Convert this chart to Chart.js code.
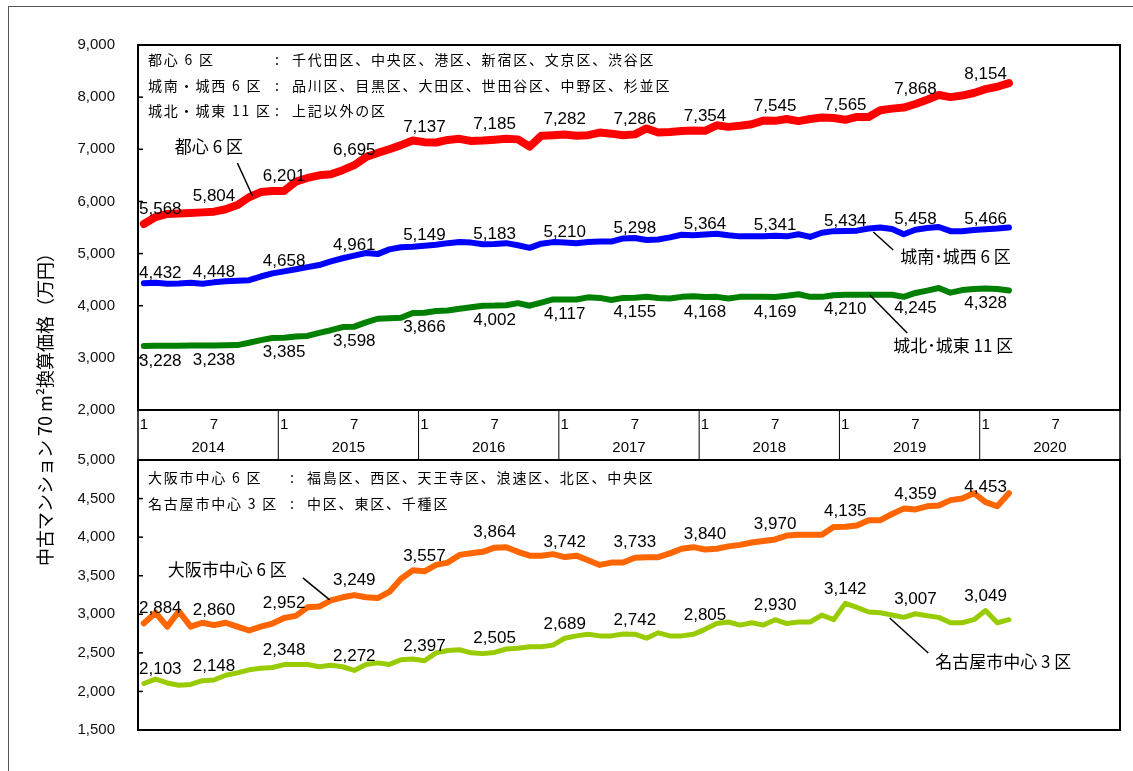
<!DOCTYPE html>
<html lang="ja">
<head>
<meta charset="utf-8">
<script src="https://cdn.jsdelivr.net/npm/chart.js@4.4.1/dist/chart.umd.min.js"></script>
<style>
  html, body { margin: 0; padding: 0; background: #fff; overflow: hidden; }
  #frame { position: absolute; left: 8px; top: 6px; width: 1200px; height: 900px; border: 1px solid #555; }
  canvas { position: absolute; left: 0; top: 0; }
</style>
</head>
<body>
<div id="frame"></div>
<canvas id="topChart" width="1133" height="771"></canvas>
<canvas id="bottomChart" width="1133" height="771"></canvas>
<script>
// 2014/1 .. 2020/12
const years = ['2014', '2015', '2016', '2017', '2018', '2019', '2020'];
const months = [];
years.forEach(y => { for (let m = 1; m <= 12; m++) months.push(y + '/' + m); });

// 首都圏 (万円), monthly from 2014/1 to 2020/3
const toshin6 = [
  5568, 5700, 5760, 5770, 5780, 5790, 5804, 5850, 5930, 6080, 6180, 6200,
  6201, 6380, 6450, 6500, 6520, 6600, 6695, 6850, 6930, 7000, 7080, 7170,
  7137, 7130, 7180, 7200, 7160, 7170, 7185, 7200, 7190, 7050, 7260, 7270,
  7282, 7260, 7270, 7320, 7300, 7270, 7286, 7400, 7320, 7330, 7350, 7360,
  7354, 7460, 7430, 7450, 7480, 7550, 7545, 7580, 7540, 7580, 7610, 7600,
  7565, 7620, 7620, 7750, 7780, 7800, 7868, 7950, 8040, 8000, 8030, 8080,
  8154, 8200, 8270
];
const jonanJosei6 = [
  4432, 4440, 4420, 4425, 4440, 4420, 4448, 4470, 4480, 4490, 4560, 4620,
  4658, 4700, 4740, 4780, 4850, 4910, 4961, 5010, 4990, 5080, 5120, 5130,
  5149, 5170, 5200, 5220, 5210, 5180, 5183, 5200, 5160, 5110, 5190, 5220,
  5210, 5200, 5220, 5230, 5230, 5290, 5298, 5260, 5270, 5310, 5360, 5350,
  5364, 5380, 5350, 5330, 5330, 5330, 5341, 5330, 5370, 5320, 5400, 5430,
  5434, 5440, 5480, 5500, 5470, 5370, 5458, 5490, 5510, 5430, 5430, 5450,
  5466, 5480, 5500
];
const johokuJoto11 = [
  3228, 3230, 3230, 3232, 3235, 3236, 3238, 3240, 3245, 3290, 3340, 3380,
  3385, 3410, 3420, 3480, 3530, 3590, 3598, 3680, 3750, 3760, 3770, 3860,
  3866, 3900, 3910, 3940, 3970, 4000, 4002, 4010, 4050, 4000, 4060, 4120,
  4117, 4120, 4160, 4150, 4110, 4150, 4155, 4170, 4150, 4140, 4170, 4180,
  4168, 4170, 4140, 4170, 4170, 4170, 4169, 4190, 4220, 4170, 4170, 4200,
  4210, 4210, 4210, 4210, 4210, 4170, 4245, 4290, 4340, 4250, 4300, 4320,
  4328, 4320, 4290
];
// 近畿・中部圏
const osaka6 = [
  2884, 3020, 2840, 3040, 2840, 2890, 2860, 2890, 2840, 2790, 2840, 2880,
  2952, 2980, 3090, 3100, 3180, 3220, 3249, 3220, 3210, 3290, 3460, 3570,
  3557, 3640, 3670, 3770, 3790, 3810, 3864, 3870, 3810, 3760, 3760, 3780,
  3742, 3760, 3700, 3640, 3670, 3670, 3733, 3740, 3740, 3790, 3850, 3870,
  3840, 3850, 3880, 3900, 3930, 3950, 3970, 4020, 4030, 4030, 4030, 4130,
  4135, 4150, 4220, 4220, 4300, 4370, 4359, 4400, 4410, 4480, 4500, 4570,
  4453, 4400, 4570
];
const nagoya3 = [
  2103, 2160, 2110, 2080, 2090, 2140, 2148, 2210, 2240, 2280, 2300, 2310,
  2348, 2350, 2350, 2320, 2340, 2320, 2272, 2350, 2370, 2350, 2410, 2420,
  2397, 2500, 2530, 2540, 2500, 2490, 2505, 2550, 2560, 2580, 2580, 2600,
  2689, 2720, 2740, 2720, 2720, 2745, 2742, 2690, 2760, 2720, 2720, 2740,
  2805, 2880, 2900, 2860, 2890, 2860, 2930, 2880, 2900, 2900, 2990, 2930,
  3142, 3090, 3030, 3020, 2990, 2960, 3007, 2980, 2960, 2890, 2890, 2930,
  3049, 2890, 2930
];

const topNotes = [
  ['都心 6 区', '千代田区、中央区、港区、新宿区、文京区、渋谷区'],
  ['城南・城西 6 区', '品川区、目黒区、大田区、世田谷区、中野区、杉並区'],
  ['城北・城東 11 区', '上記以外の区']
];
const bottomNotes = [
  ['大阪市中心 6 区', '福島区、西区、天王寺区、浪速区、北区、中央区'],
  ['名古屋市中心 3 区', '中区、東区、千種区']
];

const CJK = '"Noto Sans CJK JP", sans-serif';
const NUM = '"Liberation Sans", Arial, sans-serif';

const fmt = v => v.toLocaleString('en-US');

// labels every 6 months on each line
const dataLabels = {
  id: 'dataLabels',
  afterDatasetsDraw(chart) {
    const ctx = chart.ctx;
    ctx.save();
    ctx.font = '17px ' + NUM;
    ctx.fillStyle = '#000';
    ctx.textBaseline = 'middle';
    chart.data.datasets.forEach((ds, di) => {
      chart.getDatasetMeta(di).data.forEach((pt, i) => {
        if (i % 6 !== 0) return;
        if (i === 0) {
          ctx.textAlign = 'left';
          ctx.fillText(fmt(ds.data[i]), chart.chartArea.left + 1, pt.y + ds.labelOffset);
        } else {
          ctx.textAlign = 'center';
          ctx.fillText(fmt(ds.data[i]), pt.x, pt.y + ds.labelOffset);
        }
      });
    });
    ctx.restore();
  }
};

// frame, inward ticks, legend text, callouts
const panelDeco = {
  id: 'panelDeco',
  afterDraw(chart, args, opts) {
    const ctx = chart.ctx;
    const a = chart.chartArea;
    const x = chart.scales.x, y = chart.scales.y;
    ctx.save();
    ctx.strokeStyle = '#000';
    ctx.lineWidth = 2;
    ctx.strokeRect(a.left, a.top, a.right - a.left, a.bottom - a.top);
    ctx.lineWidth = 1.5;
    y.ticks.forEach(t => {
      const py = y.getPixelForValue(t.value);
      ctx.beginPath(); ctx.moveTo(a.left, py); ctx.lineTo(a.left + 5, py); ctx.stroke();
    });

    // area list in the corner
    ctx.fillStyle = '#000';
    ctx.font = '14px ' + CJK;
    ctx.textBaseline = 'middle';
    ctx.textAlign = 'left';
    ctx.letterSpacing = '1.8px';
    opts.notes.forEach((n, i) => {
      const ty = a.top + opts.noteTop + i * opts.noteGap;
      ctx.fillText(n[0], a.left + 10, ty);
      ctx.fillText(':', a.left + opts.colonX, ty);
      ctx.fillText(n[1], a.left + opts.colonX + 17, ty);
    });
    ctx.letterSpacing = '0px';

    // series names with leader lines
    ctx.font = '17px ' + CJK;
    ctx.lineWidth = 1.5;
    opts.callouts.forEach(c => {
      ctx.fillText(c.text, x.getPixelForValue(c.at[0]), y.getPixelForValue(c.at[1]));
      ctx.beginPath();
      ctx.moveTo(x.getPixelForValue(c.from[0]), y.getPixelForValue(c.from[1]));
      ctx.lineTo(x.getPixelForValue(c.to[0]), y.getPixelForValue(c.to[1]));
      ctx.stroke();
    });
    ctx.restore();
  }
};

// month / year band under the top panel + y title
const band = {
  id: 'band',
  afterDraw(chart) {
    const ctx = chart.ctx;
    const a = chart.chartArea;
    const x = chart.scales.x;
    const bottom = chart.scales.x2.bottom;
    ctx.save();
    ctx.strokeStyle = '#000';
    ctx.lineWidth = 1.5;
    ctx.strokeRect(a.left, a.bottom, a.right - a.left, bottom - a.bottom);
    ctx.lineWidth = 1;
    for (let k = 1; k < years.length; k++) {
      const px = (x.getPixelForValue(12 * k - 1) + x.getPixelForValue(12 * k)) / 2;
      ctx.beginPath(); ctx.moveTo(px, a.bottom); ctx.lineTo(px, bottom); ctx.stroke();
    }
    ctx.translate(45, 405);
    ctx.rotate(-Math.PI / 2);
    ctx.font = '18px ' + CJK;
    ctx.fillStyle = '#000';
    ctx.textAlign = 'center';
    ctx.textBaseline = 'middle';
    ctx.fillText('中古マンション 70 m²換算価格（万円）', 0, 0);
    ctx.restore();
  }
};

function yAxis(min, max, step) {
  return {
    min: min, max: max,
    ticks: { stepSize: step, padding: 23, color: '#111', font: { family: NUM, size: 15 }, callback: v => fmt(v) },
    grid: { display: false, drawTicks: false },
    border: { display: false },
    afterFit: s => { s.width = 138; }
  };
}

function line(label, data, color, width, offset) {
  return {
    label: label, data: data, borderColor: color, backgroundColor: color,
    borderWidth: width, pointRadius: 0, tension: 0,
    borderCapStyle: 'round', borderJoinStyle: 'round', labelOffset: offset
  };
}

const common = {
  responsive: false, animation: false, devicePixelRatio: 1, events: []
};

new Chart(document.getElementById('topChart'), {
  type: 'line',
  data: {
    labels: months,
    datasets: [
      line('都心6区', toshin6, '#ff0000', 8, -15),
      line('城南・城西6区', jonanJosei6, '#0000ff', 6, -10),
      line('城北・城東11区', johokuJoto11, '#008000', 6, 15)
    ]
  },
  options: Object.assign({}, common, {
    layout: { padding: { top: 45, right: 13, bottom: 311, left: 0 } },
    scales: {
      x: {
        type: 'category', labels: months, offset: true, weight: 0,
        grid: { display: false, drawTicks: false }, border: { display: false },
        ticks: {
          autoSkip: false, maxRotation: 0, padding: 6, color: '#000',
          font: { family: NUM, size: 15 },
          callback: (v, i) => i % 12 === 0 ? '1' : (i % 12 === 6 ? '7' : '')
        },
        afterFit: s => { s.height = 25; }
      },
      x2: {
        type: 'category', labels: years, offset: true, position: 'bottom', weight: 1,
        grid: { display: false, drawTicks: false }, border: { display: false },
        ticks: { maxRotation: 0, padding: 4, color: '#000', font: { family: NUM, size: 15 } },
        afterFit: s => { s.height = 25; }
      },
      y: yAxis(2000, 9000, 1000)
    },
    plugins: {
      legend: { display: false }, tooltip: { enabled: false },
      panelDeco: {
        notes: topNotes, noteTop: 15, noteGap: 25.5, colonX: 137,
        callouts: [
          { text: '都心 6 区', at: [2.65, 7044], from: [8.0, 6737], to: [9.3, 6104] },
          { text: '城南･城西 6 区', at: [64.7, 4934], from: [62.4, 5413], to: [64.1, 5068] },
          { text: '城北･城東 11 区', at: [64.1, 3227], from: [62.1, 4205], to: [65.3, 3476] }
        ]
      }
    }
  }),
  plugins: [dataLabels, panelDeco, band]
});

new Chart(document.getElementById('bottomChart'), {
  type: 'line',
  data: {
    labels: months,
    datasets: [
      line('大阪市中心6区', osaka6, '#ff6600', 6, -15),
      line('名古屋市中心3区', nagoya3, '#99cc00', 5, -14)
    ]
  },
  options: Object.assign({}, common, {
    layout: { padding: { top: 460, right: 13, bottom: 41, left: 0 } },
    scales: {
      x: { type: 'category', labels: months, offset: true, display: false },
      y: yAxis(1500, 5000, 500)
    },
    plugins: {
      legend: { display: false }, tooltip: { enabled: false },
      panelDeco: {
        notes: bottomNotes, noteTop: 18, noteGap: 26, colonX: 152,
        callouts: [
          { text: '大阪市中心 6 区', at: [2.05, 3574], from: [13.6, 3471], to: [15.9, 3186] },
          { text: '名古屋市中心 3 区', at: [67.7, 2382], from: [63.8, 2952], to: [67.1, 2499] }
        ]
      }
    }
  }),
  plugins: [dataLabels, panelDeco]
});
</script>
</body>
</html>
